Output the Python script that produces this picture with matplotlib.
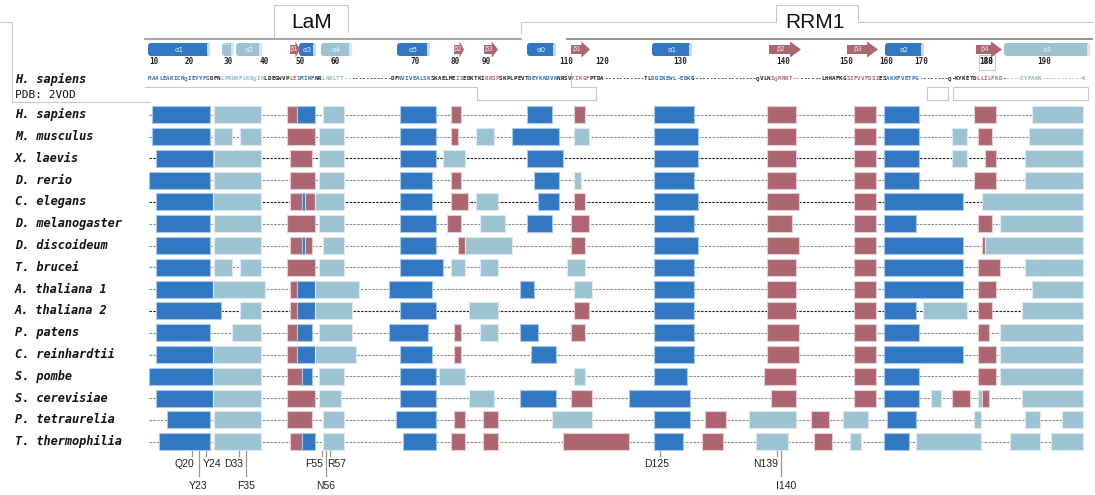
import matplotlib
matplotlib.use("Agg")
import matplotlib.pyplot as plt
from matplotlib.patches import Rectangle, FancyBboxPatch, FancyArrow

# colours
DARK = "#3277c1"
LIGHT = "#9cc3d1"
RED = "#ad6670"
EDGE = {"H": "#a9c7e8", "h": "#dbeaf0", "E": "#e6cdd1"}
FILL = {"H": DARK, "h": LIGHT, "E": RED}

species = ["H. sapiens", "M. musculus", "X. laevis", "D. rerio", "C. elegans",
           "D. melanogaster", "D. discoideum", "T. brucei", "A. thaliana 1",
           "A. thaliana 2", "P. patens", "C. reinhardtii", "S. pombe",
           "S. cerevisiae", "P. tetraurelia", "T. thermophilia"]

# segments per species: (start, end, type) in alignment position
# H = helix, h = predicted/weak helix, E = strand
hs = [(152, 210, "H"), (214, 261, "h"), (287, 297, "E"), (297, 315, "H"), (323, 344, "h"),
      (400, 436, "H"), (451, 461, "E"), (527, 552, "H"), (574, 585, "E"), (654, 694, "H"),
      (767, 796, "E"), (854, 876, "E"), (884, 919, "H"), (974, 996, "E"), (1032, 1083, "h")]
mm = [(152, 210, "H"), (214, 232, "h"), (240, 261, "h"), (287, 315, "E"), (319, 344, "h"),
      (400, 436, "H"), (451, 458, "E"), (476, 494, "h"), (512, 559, "H"), (574, 589, "h"),
      (654, 698, "H"), (767, 796, "E"), (854, 876, "E"), (884, 919, "H"), (952, 967, "h"),
      (978, 992, "E"), (1029, 1083, "h")]
xl = [(156, 213, "H"), (214, 261, "h"), (290, 312, "E"), (319, 344, "h"), (400, 436, "H"),
      (443, 465, "h"), (527, 563, "H"), (654, 698, "H"), (767, 796, "E"), (854, 876, "E"),
      (884, 919, "H"), (952, 967, "h"), (985, 996, "E"), (1025, 1083, "h")]
dr = [(149, 210, "H"), (214, 261, "h"), (290, 315, "E"), (319, 344, "h"), (400, 432, "H"),
      (451, 461, "E"), (534, 559, "H"), (574, 581, "h"), (654, 694, "H"), (767, 796, "E"),
      (854, 876, "E"), (884, 919, "H"), (974, 996, "E"), (1025, 1083, "h")]
ce = [(156, 213, "H"), (213, 261, "h"), (290, 302, "E"), (302, 305, "H"), (305, 315, "E"),
      (315, 344, "h"), (400, 432, "H"), (451, 468, "E"), (476, 498, "h"), (538, 559, "H"),
      (574, 585, "E"), (654, 698, "H"), (767, 799, "E"), (854, 876, "E"), (884, 963, "H"),
      (982, 1083, "h")]
dm = [(156, 210, "H"), (214, 261, "h"), (287, 315, "E"), (319, 344, "h"), (400, 436, "H"),
      (447, 461, "E"), (480, 505, "h"), (527, 552, "H"), (571, 589, "E"), (654, 694, "H"),
      (767, 792, "E"), (854, 876, "E"), (884, 916, "H"), (978, 992, "E"), (1000, 1083, "h")]
dd = [(156, 210, "H"), (214, 261, "h"), (290, 302, "E"), (302, 305, "H"), (305, 312, "E"),
      (323, 344, "h"), (400, 436, "H"), (458, 465, "E"), (465, 512, "h"), (571, 585, "E"),
      (654, 698, "H"), (767, 799, "E"), (854, 876, "E"), (884, 963, "H"), (982, 985, "E"),
      (985, 1083, "h")]
tb = [(156, 210, "H"), (214, 232, "h"), (240, 261, "h"), (287, 315, "E"), (319, 344, "h"),
      (400, 443, "H"), (451, 465, "h"), (480, 498, "h"), (567, 585, "h"), (654, 694, "H"),
      (767, 796, "E"), (854, 876, "E"), (884, 963, "H"), (978, 1000, "E"), (1025, 1083, "h")]
at1 = [(156, 213, "H"), (213, 265, "h"), (290, 297, "E"), (297, 315, "H"), (315, 359, "h"),
       (389, 432, "H"), (520, 534, "H"), (574, 592, "h"), (654, 694, "H"), (767, 796, "E"),
       (854, 876, "E"), (884, 963, "H"), (978, 996, "E"), (1032, 1083, "h")]
at2 = [(156, 221, "H"), (240, 261, "h"), (290, 297, "E"), (297, 315, "H"), (315, 352, "h"),
       (400, 436, "H"), (469, 498, "h"), (574, 589, "E"), (654, 694, "H"), (767, 796, "E"),
       (854, 876, "E"), (884, 916, "H"), (923, 967, "h"), (978, 992, "E"), (1022, 1083, "h")]
pp = [(156, 210, "H"), (232, 261, "h"), (287, 297, "E"), (297, 312, "H"), (319, 352, "h"),
      (389, 428, "H"), (454, 461, "E"), (480, 498, "h"), (520, 538, "H"), (571, 585, "E"),
      (654, 694, "H"), (767, 799, "E"), (854, 876, "E"), (884, 919, "H"), (978, 989, "E"),
      (1000, 1083, "h")]
cr = [(156, 213, "H"), (213, 261, "h"), (287, 297, "E"), (297, 315, "H"), (315, 356, "h"),
      (400, 432, "H"), (454, 461, "E"), (531, 556, "H"), (654, 694, "H"), (767, 799, "E"),
      (854, 876, "E"), (884, 963, "H"), (978, 996, "E"), (1000, 1083, "h")]
sp = [(149, 213, "H"), (213, 261, "h"), (287, 302, "E"), (302, 312, "H"), (319, 344, "h"),
      (400, 436, "H"), (439, 465, "h"), (574, 585, "h"), (654, 687, "H"), (764, 796, "E"),
      (854, 876, "E"), (884, 919, "H"), (978, 996, "E"), (1000, 1083, "h")]
sc = [(156, 213, "H"), (213, 261, "h"), (287, 315, "E"), (319, 341, "h"), (400, 436, "H"),
      (469, 494, "h"), (520, 556, "H"), (571, 592, "E"), (629, 690, "H"), (771, 796, "E"),
      (854, 876, "E"), (884, 919, "H"), (931, 941, "h"), (952, 970, "E"), (978, 982, "h"),
      (982, 989, "E"), (1022, 1083, "h")]
pt = [(167, 210, "H"), (214, 261, "h"), (287, 312, "E"), (323, 344, "h"), (396, 436, "H"),
      (454, 465, "E"), (483, 498, "E"), (552, 592, "h"), (654, 690, "H"), (705, 726, "E"),
      (749, 796, "h"), (811, 829, "E"), (843, 868, "h"), (887, 916, "H"), (974, 981, "h"),
      (1025, 1040, "h"), (1062, 1083, "h")]
tt = [(159, 210, "H"), (214, 261, "h"), (290, 302, "E"), (302, 315, "H"), (323, 344, "h"),
      (403, 436, "H"), (451, 465, "E"), (483, 498, "E"), (563, 629, "E"), (654, 683, "H"),
      (702, 723, "E"), (756, 788, "h"), (814, 832, "E"), (850, 861, "h"), (884, 909, "H"),
      (916, 981, "h"), (1010, 1040, "h"), (1051, 1083, "h")]
rows = [hs, mm, xl, dr, ce, dm, dd, tb, at1, at2, pp, cr, sp, sc, pt, tt]
dark_dash = ["X. laevis", "C. elegans", "A. thaliana 2"]

# secondary structure of the human structure (PDB 2VOD)
ss_start = [148, 222, 236, 290, 299, 321, 397, 454, 484, 527, 571, 652, 769, 847, 885, 976, 1004]
ss_end = [210, 234, 262, 300, 316, 352, 430, 464, 498, 556, 590, 692, 801, 878, 924, 1002, 1090]
ss_type = ["H", "h", "h", "E", "H", "h", "H", "E", "E", "H", "E", "H", "E", "E", "H", "E", "h"]
ss_label = ["α1", "α1'", "α2", "β1", "α3", "α4", "α5", "β2", "β3", "α0", "β1", "α1", "β2",
            "β3", "α2", "β4", "α3"]

tick_pos = [154, 189, 228, 264, 300, 335, 415, 455, 486, 566, 602, 680, 783, 846, 886, 921, 986, 986, 1044]
tick_lab = ["10", "20", "30", "40", "50", "60", "70", "80", "90", "110", "120", "130", "140",
            "150", "160", "170", "180", "188", "190"]

seq = ("MAALEAKICHQIEYYFGDFNLPRDKFLKEQIKLDEGWVPLEIMIKFNRLNRLTT-------------"
       "DFNVIVEALSKSKAELMEISEDKTKIRRSPSKPLPEVTDEYKNDVKNRSVYIKGFPTDA-----------"
       "TLDDIKEWL-EDKG-----------------QVLNIQMRRT--------LHKAFKGSIFVVFDSIESAKKFVETPG"
       "--------Q-KYKETDLLILFKD-----DYFAKK-----------K")

# residues marked below the alignment
res_lab = ["Q20", "Y23", "Y24", "D33", "F35", "F55", "N56", "R57", "D125", "N139", "I140"]
res_pos = [192, 199, 206, 239, 246, 322, 326, 330, 660, 777, 781]
res_text_x = [184, 198, 212, 234, 246, 314, 326, 337, 657, 766, 786]
res_low = [False, True, False, False, True, False, True, False, False, False, True]

fig = plt.figure(figsize=(10.95, 4.95), dpi=100)
ax = fig.add_axes([0, 0, 1, 1])
ax.set_xlim(0, 1095)
ax.set_ylim(495, 0)
ax.axis("off")

row0, dy, bh = 114.7, 21.8, 17.0
mono = "DejaVu Sans Mono"

for i, (name, segs) in enumerate(zip(species, rows)):
    y = row0 + i * dy
    ax.text(15, y, name, fontfamily=mono, fontstyle="italic", fontweight="bold",
            fontsize=8.6, va="center", ha="left", color="#111")
    dcol = "#222222" if name in dark_dash else "#8f8a86"
    ax.plot([149, 1083], [y, y], color=dcol, lw=0.8, ls=(0, (2.2, 1.2)), zorder=1)
    for x0, x1, t in segs:
        ax.add_patch(Rectangle((x0, y - bh / 2), x1 - x0, bh, facecolor=FILL[t],
                               edgecolor=EDGE[t], lw=0.8, zorder=2))

# secondary structure track
yc, ch = 49.5, 13
for x0, x1, t, lab in zip(ss_start, ss_end, ss_type, ss_label):
    if t == "E":
        hl = min(11, (x1 - x0) * 0.45)
        ax.add_patch(FancyArrow(x0, yc, x1 - x0, 0, width=9, head_width=16, head_length=hl,
                                length_includes_head=True, facecolor=RED, edgecolor="none",
                                zorder=3))
        ax.text(x0 + (x1 - x0 - hl) / 2 + 1, yc, lab, fontsize=5, color="#f0e0e3",
                ha="center", va="center", zorder=4)
    else:
        col = DARK if t == "H" else LIGHT
        ax.add_patch(FancyBboxPatch((x0, yc - ch / 2), x1 - x0, ch,
                                    boxstyle="round,pad=0,rounding_size=3",
                                    facecolor=col, edgecolor="none", zorder=3))
        ax.add_patch(FancyBboxPatch((x1 - 3, yc - ch / 2), 3, ch,
                                    boxstyle="round,pad=0,rounding_size=1.5",
                                    facecolor="#c9dcea" if t == "H" else "#d9e8ee",
                                    edgecolor="none", zorder=3))
        if lab == "α1'":
            ax.text((x0 + x1) / 2, yc - 6, lab, fontsize=4.5, color="#e8f1f5",
                    ha="center", va="center", zorder=4)
        else:
            ax.text((x0 + x1) / 2, yc, lab, fontsize=5, color="#e8f1f5" if t == "H" else "#eef5f8",
                    ha="center", va="center", zorder=4)

for xp, lab in zip(tick_pos, tick_lab):
    ax.text(xp, 62, lab, fontfamily=mono, fontweight="bold", fontsize=5.5,
            ha="center", va="center", color="#222")


def seq_color(x):
    for x0, x1, t in zip(ss_start, ss_end, ss_type):
        if x0 <= x <= x1:
            return {"H": "#2f6fb8", "h": "#8fb8cc", "E": "#b06a74"}[t]
    return "#222222"


step = (1085 - 148) / len(seq)
for k, c in enumerate(seq):
    xc = 148 + (k + 0.5) * step
    ax.text(xc, 79, c, fontfamily=mono, fontweight="bold", fontsize=4.2,
            ha="center", va="center", color=seq_color(xc))

# left header
ax.text(15, 79, "H. sapiens", fontfamily=mono, fontstyle="italic", fontweight="bold",
        fontsize=8.6, va="center", color="#111")
ax.text(15, 95, "PDB: 2VOD", fontfamily=mono, fontsize=8, va="center", color="#111")

# frames and domain headers
g1, g2 = "#c8c8c8", "#9a9a9a"
ax.plot([0, 12, 12, 150], [22, 22, 102, 102], color=g1, lw=0.8)
ax.plot([274, 274, 348, 348], [39, 5, 5, 32], color=g1, lw=0.8)
ax.plot([145, 521], [39, 39], color=g2, lw=1.2)
ax.plot([521, 521], [33, 22], color=g1, lw=0.8)
ax.plot([521, 776, 776, 858, 858, 1092], [22, 22, 5, 5, 22, 22], color=g1, lw=0.8)
ax.plot([567, 1092], [39, 39], color="#8a8a8a", lw=1.3)
ax.text(312, 23, "LaM", fontfamily="Liberation Sans", fontsize=15, ha="center", va="center",
        color="#111")
ax.text(815, 22, "RRM1", fontfamily="Liberation Sans", fontsize=15, ha="center", va="center",
        color="#111")
ax.plot([145, 477, 477, 596, 596, 571, 571], [87, 87, 100, 100, 87, 87, 72], color=g1, lw=0.8)
ax.add_patch(Rectangle((927, 87), 21, 13, facecolor="none", edgecolor=g1, lw=0.8))
ax.add_patch(Rectangle((953, 87), 135, 13, facecolor="none", edgecolor=g1, lw=0.8))
ax.add_patch(Rectangle((979, 55), 16, 15, facecolor="none", edgecolor=g1, lw=0.8))

# marked residues
ybot = row0 + 15 * dy + bh / 2
for lab, xp, xt, low in zip(res_lab, res_pos, res_text_x, res_low):
    ax.plot([xp, xp], [ybot + 1, ybot + (26 if low else 6)], color="#999", lw=0.9)
    ax.text(xt, 486 if low else 464, lab, fontfamily="Liberation Sans", fontsize=7.5,
            ha="center", va="center", color="#222")

fig.savefig("out.png", dpi=100)
